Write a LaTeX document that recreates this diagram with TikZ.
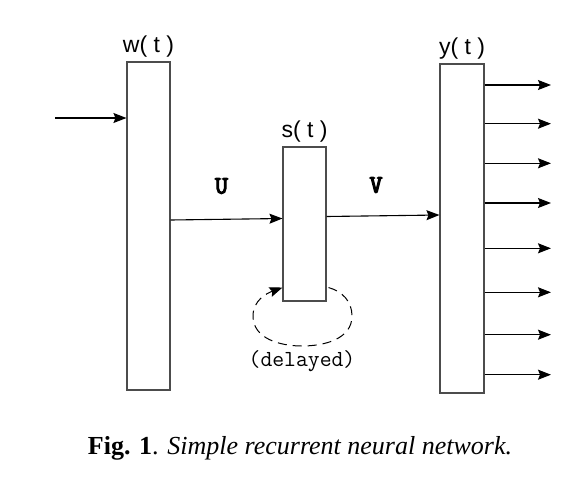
\documentclass[tikz,border=0pt]{standalone}
\usepackage{fontspec}
\setmainfont{Liberation Serif}
\setsansfont{Liberation Sans}
\setmonofont{Liberation Mono}
\newfontfamily\delayfont{Latin Modern Mono}
\newfontfamily\weightfont{Latin Modern Mono}[FakeBold=5]
\usetikzlibrary{arrows.meta,positioning}

\begin{document}
\begin{tikzpicture}[x=1pt,y=-1pt,
		every node/.style={black},
		layer/.style={draw=black!70, line width=1.1pt, inner sep=0pt, minimum width=43pt},
		lbl/.style={font=\sffamily\fontsize{23}{26}\selectfont, inner sep=0pt},
		wlbl/.style={font=\weightfont\fontsize{25}{28}\selectfont, inner sep=0pt},
		arr/.style={line width=1.1pt, -{Stealth[length=13pt,width=10pt,inset=2pt]}}]
				\useasboundingbox (0,0) rectangle (586,485);
				% layers
				\node[layer, minimum height=328pt] (wbox) at (148.5,226) {};
				\node[layer, minimum height=154pt] (sbox) at (304.5,224) {};
				\node[layer, minimum width=44pt, minimum height=329pt] (ybox) at (462,228.5) {};
				\node[lbl, above=4pt of wbox] (wname) {w( t )};
				\node[lbl, above=4pt of sbox] (sname) {s( t )};
				\node[lbl, above=4pt of ybox] (yname) {y( t )};
				% input and weights
				\coordinate (in) at (55,118);
				\draw[arr] (in) -- (wbox.west |- in);
				\draw[arr] (wbox.east |- 0,220) -- (sbox.west |- 0,218.5);
				\draw[arr] (sbox.east |- 0,216.5) -- (ybox.west |- 0,215);
				\node[wlbl] (U) at (221.5,186) {U};
				\node[wlbl] (V) at (376,185) {V};
				% outputs
				\foreach \py [count=\i] in {85,123.7,163.3,203,248.3,292.3,334.7,374.7}{
					\coordinate (out\i) at (551,\py);
					\draw[arr] (ybox.east |- out\i) -- (out\i);
				}
				% delayed copy of the state
				\coordinate (loop) at (302,346);
				\draw[arr, dashed, dash pattern=on 9pt off 6pt, line width=1pt]
					([shift={(2pt,14pt)}]sbox.south east) to[out=-15,in=90] (352,316)
					to[out=-90,in=0] (loop) to[out=180,in=-90] (253,316)
					to[out=90,in=200] ([yshift=14pt]sbox.south west);
				\node[font=\delayfont\fontsize{23}{26}\selectfont, inner sep=0pt] (delay) at (302,361) {(delayed)};
				% caption
				\node[font=\fontsize{26}{30}\selectfont, inner sep=0pt, anchor=base] (caption) at (300,454)
					{\textbf{Fig. 1}. \textit{Simple recurrent neural network.}};
			\end{tikzpicture}
\end{document}
